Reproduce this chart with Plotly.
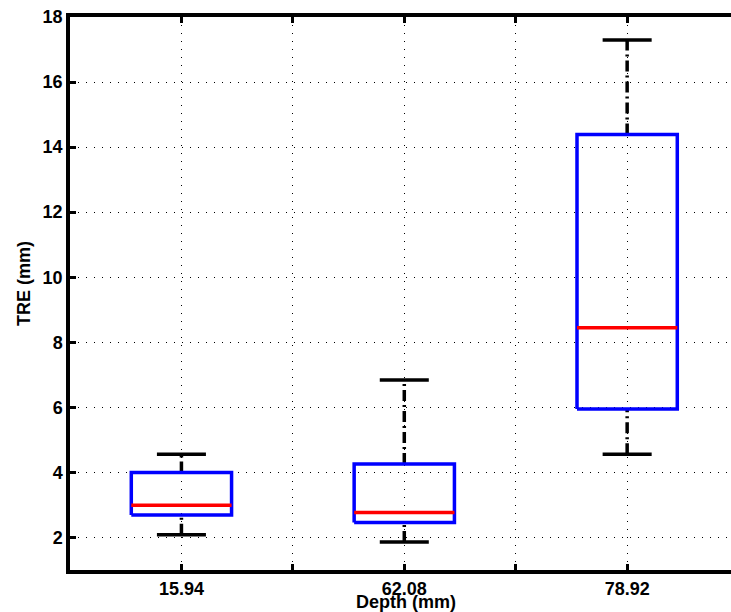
import plotly.graph_objects as go

categories = ["15.94", "62.08", "78.92"]
lower_whisker = [2.08, 1.86, 4.56]
q1 = [2.69, 2.46, 5.95]
median = [2.99, 2.77, 8.45]
q3 = [4.00, 4.26, 14.39]
upper_whisker = [4.56, 6.84, 17.29]
y_ticks = [2, 4, 6, 8, 10, 12, 14, 16, 18]

box_half = 0.225
cap_half = 0.11

fig = go.Figure()
for i, cat in enumerate(categories):
    x0 = i + 1
    for seg in ([q3[i], upper_whisker[i]], [lower_whisker[i], q1[i]]):
        fig.add_trace(go.Scatter(x=[x0, x0], y=seg, mode="lines",
                                 line=dict(color="black", width=3.5, dash="11px,4px,2px,4px"),
                                 showlegend=False, hoverinfo="skip"))
    for v in (upper_whisker[i], lower_whisker[i]):
        fig.add_trace(go.Scatter(x=[x0 - cap_half, x0 + cap_half], y=[v, v], mode="lines",
                                 line=dict(color="black", width=3.5),
                                 showlegend=False, hoverinfo="skip"))
    fig.add_trace(go.Scatter(x=[x0 - box_half, x0 + box_half, x0 + box_half, x0 - box_half, x0 - box_half],
                             y=[q1[i], q1[i], q3[i], q3[i], q1[i]], mode="lines",
                             line=dict(color="#0000ff", width=3.5),
                             showlegend=False, hoverinfo="skip"))
    fig.add_trace(go.Scatter(x=[x0 - box_half, x0 + box_half], y=[median[i], median[i]], mode="lines",
                             line=dict(color="#ff0000", width=3.5),
                             showlegend=False, hoverinfo="skip"))

font = dict(family="Liberation Sans, Arial, sans-serif", size=18, color="black")

L, T, B = 70, 17, 42
plot_w = 731 - L
plot_h = 612 - T - B

fig.update_layout(
    width=731, height=612,
    margin=dict(l=L, r=0, t=T, b=B, autoexpand=False),
    plot_bgcolor="white", paper_bgcolor="white",
    font=font,
    xaxis=dict(
        range=[0.5, 3.466],
        tickvals=[1, 1.5, 2, 2.5, 3],
        ticktext=["<b>" + categories[0] + "</b>", "", "<b>" + categories[1] + "</b>", "",
                  "<b>" + categories[2] + "</b>"],
        ticks="inside", ticklen=6, tickwidth=2.5, tickcolor="black",
        showline=True, linecolor="black", linewidth=3.5, mirror="ticks",
        showgrid=True, gridcolor="black", gridwidth=1, griddash="1px,7px",
        zeroline=False, automargin=False,
        tickfont=font,
    ),
    yaxis=dict(
        range=[1, 18],
        tickvals=y_ticks,
        ticktext=["<b>%d</b>" % v for v in y_ticks],
        ticks="inside", ticklen=6, tickwidth=2.5, tickcolor="black",
        showline=True, linecolor="black", linewidth=3.5, mirror=False,
        showgrid=True, gridcolor="black", gridwidth=1, griddash="1px,7px",
        zeroline=False, automargin=False,
        tickfont=font,
    ),
    annotations=[
        dict(text="<b>Depth (mm)</b>", xref="paper", yref="paper",
             x=(406 - L) / plot_w, y=(612 - B - 602) / plot_h,
             xanchor="center", yanchor="middle", showarrow=False, font=font),
        dict(text="<b>TRE (mm)</b>", textangle=-90, xref="paper", yref="paper",
             x=(24 - L) / plot_w, y=(612 - B - 284) / plot_h,
             xanchor="center", yanchor="middle", showarrow=False, font=font),
    ],
)

fig.write_html("out.html", config={"displayModeBar": False},
               post_script="document.body.style.margin='0';document.body.style.overflow='hidden';")
